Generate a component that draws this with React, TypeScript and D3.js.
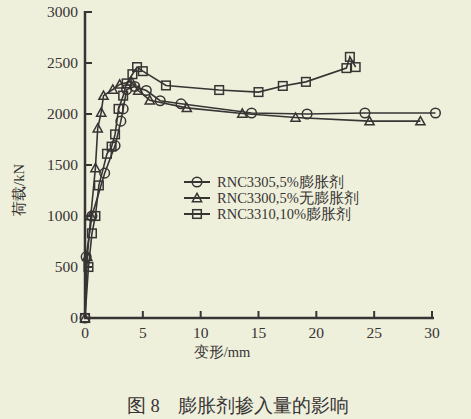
import React from "react";
import * as d3 from "d3";

const W = 471;
const H = 419;

const xTicks = [0, 5, 10, 15, 20, 25, 30];
const yTicks = [0, 500, 1000, 1500, 2000, 2500, 3000];

// RNC3305, 5% expansive agent (circles)
const s3305: [number, number][] = [
  [0, 0], [0.1, 600], [0.6, 1000], [1.7, 1420], [2.6, 1690], [3.1, 1930], [3.3, 2050],
  [3.6, 2240], [4.3, 2270], [5.3, 2230], [6.5, 2130], [8.3, 2100], [14.4, 2010],
  [19.2, 2000], [24.2, 2010], [30.3, 2010],
];
// RNC3300, 5% no expansive agent (triangles)
const s3300: [number, number][] = [
  [0, 0], [0.2, 600], [0.5, 1000], [0.9, 1470], [1.1, 1860], [1.4, 2015], [1.6, 2180],
  [2.4, 2240], [3.0, 2290], [4.0, 2320], [4.6, 2230], [5.6, 2135], [8.8, 2060],
  [13.6, 2005], [18.2, 1965], [24.6, 1930], [29.0, 1930],
];
// RNC3310, 10% expansive agent (squares)
const s3310: [number, number][] = [
  [0, 0], [0.3, 500], [0.6, 830], [0.9, 1000], [1.2, 1300], [1.9, 1610], [2.3, 1680],
  [2.6, 1800], [2.9, 2050], [3.3, 2180], [3.6, 2300], [4.1, 2390], [4.5, 2460],
  [5.0, 2420], [7.0, 2280], [11.6, 2235], [15.0, 2215], [17.1, 2275], [19.1, 2315],
  [22.6, 2450], [22.9, 2560], [23.4, 2460],
];

const legendLabels = ["RNC3305,5%膨胀剂", "RNC3300,5%无膨胀剂", "RNC3310,10%膨胀剂"];

const INK = "#383434";
const BG = "#eef0dc";
const SERIF = "'Liberation Serif', 'DejaVu Serif', serif";

function Marker({ type, x, y }: { type: string; x: number; y: number }) {
  if (type === "circle")
    return <circle cx={x} cy={y} r={4.8} fill="none" stroke={INK} strokeWidth={1.5} />;
  if (type === "square")
    return <rect x={x - 4.3} y={y - 4.3} width={8.6} height={8.6} fill="none" stroke={INK} strokeWidth={1.5} />;
  const s = 4.6;
  return (
    <path
      d={`M${x},${y - s}L${x + s},${y + s * 0.8}L${x - s},${y + s * 0.8}Z`}
      fill="none"
      stroke={INK}
      strokeWidth={1.5}
    />
  );
}

export default function App() {
  const x = d3.scaleLinear().domain([0, 30]).range([85, 432]);
  const y = d3.scaleLinear().domain([0, 3000]).range([318, 12]);
  const line = d3
    .line<[number, number]>()
    .x((d) => x(d[0]))
    .y((d) => y(d[1]));

  const series = [
    { data: s3305, type: "circle" },
    { data: s3300, type: "triangle" },
    { data: s3310, type: "square" },
  ];

  return (
    <svg
      width={W}
      height={H}
      style={{ position: "absolute", left: 0, top: 0, background: BG }}
      fontFamily={SERIF}
    >
      <rect x={0} y={0} width={W} height={H} fill={BG} />
      {/* axes */}
      <line x1={x(0)} y1={y(3000) - 1} x2={x(0)} y2={y(0) + 1} stroke={INK} strokeWidth={2.5} />
      <line x1={x(0) - 1} y1={y(0)} x2={434} y2={y(0)} stroke={INK} strokeWidth={2.5} />
      {yTicks.map((t) => (
        <g key={"y" + t}>
          <line x1={x(0)} x2={x(0) + 7} y1={y(t)} y2={y(t)} stroke={INK} strokeWidth={2} />
          <text x={78} y={y(t) + 5} textAnchor="end" fontSize={15.5} fill={INK}>
            {t}
          </text>
        </g>
      ))}
      {xTicks.map((t) => (
        <g key={"x" + t}>
          <line x1={x(t)} x2={x(t)} y1={y(0)} y2={y(0) - 7} stroke={INK} strokeWidth={2} />
          <text x={x(t)} y={338} textAnchor="middle" fontSize={15.5} fill={INK}>
            {t}
          </text>
        </g>
      ))}
      {/* series */}
      {series.map((s, i) => (
        <g key={i}>
          <path d={line(s.data) || ""} fill="none" stroke={INK} strokeWidth={1.6} />
          {s.data.map((d, j) => (
            <Marker key={j} type={s.type} x={x(d[0])} y={y(d[1])} />
          ))}
        </g>
      ))}
      {/* legend */}
      {legendLabels.map((lab, i) => {
        const ly = 182 + i * 16;
        return (
          <g key={lab}>
            <line x1={184} x2={210} y1={ly} y2={ly} stroke={INK} strokeWidth={2} />
            <Marker type={series[i].type} x={197} y={ly} />
            <text x={217} y={ly + 5} fontSize={14.5} fill={INK}>
              {lab}
            </text>
          </g>
        );
      })}
      {/* axis titles */}
      <text x={222} y={357} textAnchor="middle" fontSize={14.5} fill={INK}>
        变形/mm
      </text>
      <text
        transform={`translate(24,190) rotate(-90)`}
        textAnchor="middle"
        fontSize={14.5}
        fill={INK}
      >
        荷载/kN
      </text>
      <text x={238} y={412} textAnchor="middle" fontSize={18.5} fill={INK}>
        图 8{"\u00a0\u00a0\u00a0\u00a0"}膨胀剂掺入量的影响
      </text>
    </svg>
  );
}
